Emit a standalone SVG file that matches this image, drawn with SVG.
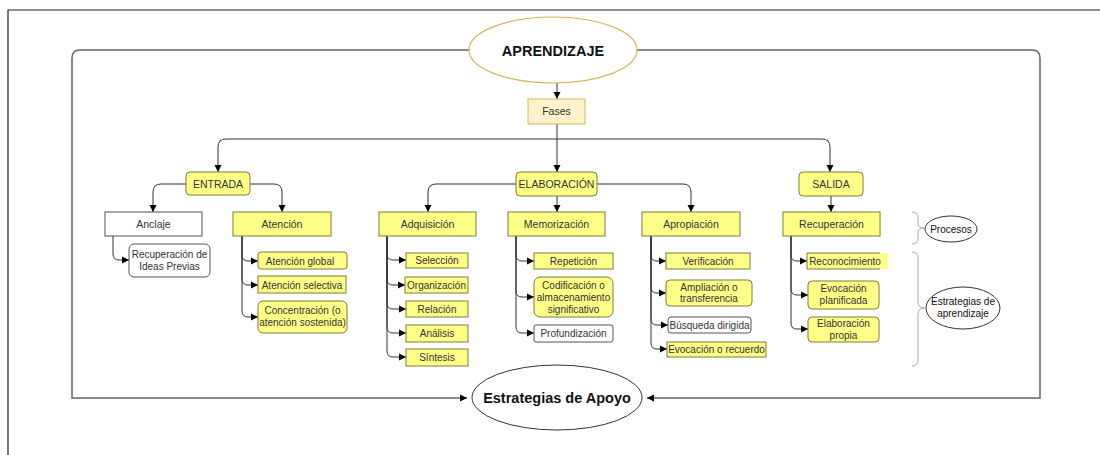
<svg xmlns="http://www.w3.org/2000/svg" width="1100" height="455" viewBox="0 0 1100 455">
<style>
text{font-family:"Liberation Sans",Arial,sans-serif;fill:#333;text-anchor:middle}
.t{font-size:10.5px}
.s{font-size:10px}
.y{fill:#ffff88;stroke:#7d7d3c;stroke-width:1}
.w{fill:#fff;stroke:#555;stroke-width:1}
.c{fill:none;stroke:#333;stroke-width:1}
.l{fill:none;stroke:#666;stroke-width:1.5}
.b{fill:none;stroke:#aaa;stroke-width:1}
.e{fill:#fff;stroke:#333;stroke-width:1}
</style>
<defs>
<marker id="a" markerWidth="8" markerHeight="8" refX="7" refY="4" orient="auto" markerUnits="userSpaceOnUse">
<path d="M0,0.5 L7,4 L0,7.5 Z" fill="#000"/>
</marker>
</defs>
<rect width="1100" height="455" fill="#fff"/>
<path d="M8,455 V10 H1100" fill="none" stroke="#222" stroke-width="1.2"/>
<g id="connectors">
<path class="l" d="M470,50 H80 Q72,50 72,58 V398 H467" marker-end="url(#a)"/>
<path class="l" d="M637,50 H1032 Q1040,50 1040,58 V398 H647" marker-end="url(#a)"/>
<path class="c" d="M557,83 V99" marker-end="url(#a)"/>
<path class="c" d="M557,124 V172" marker-end="url(#a)"/>
<path class="c" d="M557,139 H226 Q218,139 218,147 V172" marker-end="url(#a)"/>
<path class="c" d="M557,139 H822 Q830,139 830,147 V172" marker-end="url(#a)"/>
<path class="c" d="M186,184 H161 Q153,184 153,192 V212" marker-end="url(#a)"/>
<path class="c" d="M250,184 H274 Q282,184 282,192 V212" marker-end="url(#a)"/>
<path class="c" d="M516,184 H436 Q428,184 428,192 V212" marker-end="url(#a)"/>
<path class="c" d="M597,184 H683 Q691,184 691,192 V212" marker-end="url(#a)"/>
<path class="c" d="M557,196 V212" marker-end="url(#a)"/>
<path class="c" d="M831,196 V212" marker-end="url(#a)"/>
<path class="c" d="M113,236 V254 Q113,260 119,260 H129" marker-end="url(#a)"/>
<path class="c" d="M242,236 V255 Q242,261 248,261 H258" marker-end="url(#a)"/>
<path class="c" d="M242,236 V279 Q242,285 248,285 H258" marker-end="url(#a)"/>
<path class="c" d="M242,236 V311 Q242,317 248,317 H258" marker-end="url(#a)"/>
<path class="c" d="M387,236 V254 Q387,260 393,260 H406" marker-end="url(#a)"/>
<path class="c" d="M387,236 V279 Q387,285 393,285 H405" marker-end="url(#a)"/>
<path class="c" d="M387,236 V303 Q387,309 393,309 H406" marker-end="url(#a)"/>
<path class="c" d="M387,236 V327 Q387,333 393,333 H406" marker-end="url(#a)"/>
<path class="c" d="M387,236 V351 Q387,357 393,357 H406" marker-end="url(#a)"/>
<path class="c" d="M516,236 V255 Q516,261 522,261 H534" marker-end="url(#a)"/>
<path class="c" d="M516,236 V291 Q516,297 522,297 H534" marker-end="url(#a)"/>
<path class="c" d="M516,236 V327 Q516,333 522,333 H534" marker-end="url(#a)"/>
<path class="c" d="M651,236 V255 Q651,261 657,261 H666" marker-end="url(#a)"/>
<path class="c" d="M651,236 V287 Q651,293 657,293 H666" marker-end="url(#a)"/>
<path class="c" d="M651,236 V319 Q651,325 657,325 H668" marker-end="url(#a)"/>
<path class="c" d="M651,236 V343 Q651,349 657,349 H667" marker-end="url(#a)"/>
<path class="c" d="M791,236 V255 Q791,261 797,261 H807" marker-end="url(#a)"/>
<path class="c" d="M791,236 V289 Q791,295 797,295 H808" marker-end="url(#a)"/>
<path class="c" d="M791,236 V323 Q791,329 797,329 H808" marker-end="url(#a)"/>
</g>
<g id="aprendizaje"><ellipse cx="553" cy="50" rx="84" ry="33" fill="#fff" stroke="#d6b656" stroke-width="1.2"/><text x="553" y="55.5" style="font-size:14.5px;font-weight:bold;fill:#111">APRENDIZAJE</text></g>
<g id="fases"><rect x="528" y="99" width="57" height="25" fill="#fff2cc" stroke="#d6b656"/><text class="t" x="556.5" y="115">Fases</text></g>
<g id="entrada"><rect class="y" x="186" y="172" width="64" height="23" rx="4"/><text class="t" x="218" y="187.5">ENTRADA</text></g>
<g id="elaboracion"><rect class="y" x="516" y="172" width="81" height="24" rx="4"/><text class="t" x="556.5" y="187.5">ELABORACIÓN</text></g>
<g id="salida"><rect class="y" x="799" y="172" width="64" height="24" rx="4"/><text class="t" x="831" y="187.5">SALIDA</text></g>
<g id="anclaje"><rect class="w" x="105" y="212" width="97" height="24"/><text class="t" x="153.5" y="227.5">Anclaje</text></g>
<g id="atencion"><rect class="y" x="233" y="212" width="98" height="24"/><text class="t" x="282" y="227.5">Atención</text></g>
<g id="adquisicion"><rect class="y" x="379" y="212" width="97" height="24"/><text class="t" x="427.5" y="227.5">Adquisición</text></g>
<g id="memorizacion"><rect class="y" x="508" y="212" width="97" height="24"/><text class="t" x="556.5" y="227.5">Memorización</text></g>
<g id="apropiacion"><rect class="y" x="642" y="212" width="98" height="24"/><text class="t" x="691" y="227.5">Apropiación</text></g>
<g id="recuperacion"><rect class="y" x="783" y="212" width="97" height="24"/><text class="t" x="831.5" y="227.5">Recuperación</text></g>
<g id="ideas-previas"><rect class="w" x="129" y="244" width="81" height="33" rx="5"/><text class="s" x="169.5" y="258">Recuperación de</text><text class="s" x="169.5" y="270">Ideas Previas</text></g>
<g id="atencion-global"><rect class="y" x="258" y="252" width="89" height="17" rx="3"/><text class="s" x="300" y="264.5">Atención global</text></g>
<g id="atencion-selectiva"><rect class="y" x="258" y="276" width="88" height="17"/><text class="s" x="302" y="288.5">Atención selectiva</text></g>
<g id="concentracion"><rect class="y" x="258" y="301" width="89" height="32" rx="5"/><text class="s" x="302.5" y="314">Concentración (o</text><text class="s" x="302.5" y="326">atención sostenida)</text></g>
<g id="seleccion"><rect class="y" x="406" y="253" width="62" height="15"/><text class="s" x="437" y="264">Selección</text></g>
<g id="organizacion"><rect class="y" x="405" y="277" width="63" height="16"/><text class="s" x="436.5" y="288.5">Organización</text></g>
<g id="relacion"><rect class="y" x="406" y="301" width="62" height="16"/><text class="s" x="437" y="312.5">Relación</text></g>
<g id="analisis"><rect class="y" x="406" y="325" width="62" height="17"/><text class="s" x="437" y="337">Análisis</text></g>
<g id="sintesis"><rect class="y" x="406" y="349" width="62" height="17"/><text class="s" x="437" y="361">Síntesis</text></g>
<g id="repeticion"><rect class="y" x="534" y="253" width="79" height="16"/><text class="s" x="573.5" y="264.5">Repetición</text></g>
<g id="codificacion"><rect class="y" x="534" y="277" width="79" height="40" rx="6"/><text class="s" x="573.5" y="289">Codificación o</text><text class="s" x="573.5" y="301">almacenamiento</text><text class="s" x="573.5" y="313">significativo</text></g>
<g id="profundizacion"><rect class="w" x="534" y="325" width="79" height="17" rx="2"/><text class="s" x="573.5" y="337">Profundización</text></g>
<g id="verificacion"><rect class="y" x="666" y="253" width="84" height="16"/><text class="s" x="708" y="264.5">Verificación</text></g>
<g id="ampliacion"><rect class="y" x="666" y="280" width="86" height="26" rx="4"/><text class="s" x="709" y="290.5">Ampliación o</text><text class="s" x="709" y="302">transferencia</text></g>
<g id="busqueda"><rect class="w" x="668" y="317" width="83" height="16" rx="3"/><text class="s" x="709.5" y="328.5">Búsqueda dirigida</text></g>
<g id="evocacion-recuerdo"><rect class="y" x="667" y="342" width="99" height="15"/><text class="s" x="716.5" y="353">Evocación o recuerdo</text></g>
<g id="reconocimiento"><rect x="807" y="253" width="81" height="16" fill="#ffff88"/><path d="M880,253 H807 V269 H880" fill="none" stroke="#7d7d3c"/><text class="s" x="845" y="264.5">Reconocimiento</text></g>
<g id="evocacion-planificada"><rect class="y" x="808" y="281" width="71" height="28" rx="4"/><text class="s" x="843.5" y="292">Evocación</text><text class="s" x="843.5" y="304">planificada</text></g>
<g id="elaboracion-propia"><rect class="y" x="808" y="317" width="71" height="25" rx="4"/><text class="s" x="843.5" y="327">Elaboración</text><text class="s" x="843.5" y="339">propia</text></g>
<g id="brace-procesos"><path class="b" d="M912,212 Q918,212 918,218 V224 Q918,228 924,228 Q918,228 918,232 V238 Q918,244 912,244"/></g>
<g id="procesos"><ellipse class="e" cx="951" cy="229" rx="26" ry="13"/><text class="s" x="951" y="232.5" style="fill:#111">Procesos</text></g>
<g id="brace-estrategias"><path class="b" d="M912,252 Q918,252 918,258 V302 Q918,308 925,308 Q918,308 918,314 V360 Q918,366 912,366"/></g>
<g id="estrategias-aprendizaje"><ellipse class="e" cx="963" cy="308" rx="37" ry="21"/><text class="s" x="963" y="305" style="fill:#111">Estrategias de</text><text class="s" x="963" y="317" style="fill:#111">aprendizaje</text></g>
<g id="estrategias-apoyo"><ellipse class="e" cx="557" cy="397.5" rx="85" ry="32.5"/><text x="557" y="403" style="font-size:14.5px;font-weight:bold;fill:#111">Estrategias de Apoyo</text></g>
</svg>
